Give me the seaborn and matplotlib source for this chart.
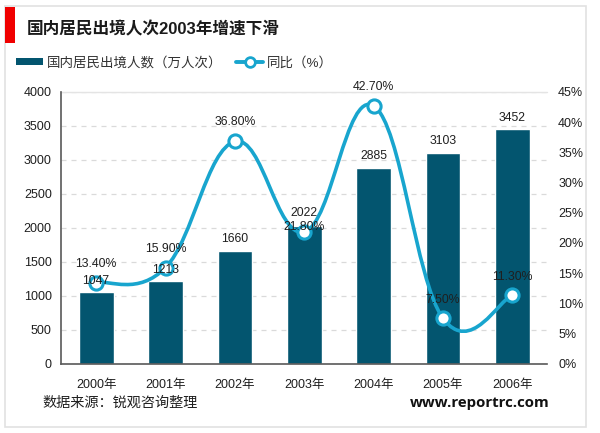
import numpy as np
import pandas as pd
import matplotlib
matplotlib.use("Agg")
import matplotlib.pyplot as plt
from matplotlib.path import Path
from matplotlib.patches import PathPatch, Rectangle, Patch
from matplotlib.lines import Line2D
import seaborn as sns

years = ['2000年', '2001年', '2002年', '2003年', '2004年', '2005年', '2006年']
travellers = [1047, 1213, 1660, 2022, 2885, 3103, 3452]
growth = [13.4, 15.9, 36.8, 21.8, 42.7, 7.5, 11.3]
growth_labels = ['13.40%', '15.90%', '36.80%', '21.80%', '42.70%', '7.50%', '11.30%']
left_ticks = [0, 500, 1000, 1500, 2000, 2500, 3000, 3500, 4000]
right_ticks = [0, 5, 10, 15, 20, 25, 30, 35, 40, 45]

BAR = '#03556F'
LINE = '#18A5CE'
TXT = '#1F1F1F'
FONT = ['Liberation Sans', 'Noto Sans CJK SC']

sns.set_theme(style='white')
plt.rcParams['font.family'] = FONT

W, H = 600, 433
fig = plt.figure(figsize=(W / 100, H / 100), dpi=100, facecolor='white')
fig.add_artist(Rectangle((5 / W, 1 - 427 / H), 581 / W, 421 / H, transform=fig.transFigure,
                         facecolor='white', edgecolor='#E2E2E2', lw=1.2, zorder=-2))
fig.add_artist(Rectangle((5 / W, 1 - 43 / H), 10 / W, 36 / H, transform=fig.transFigure,
                         facecolor='#F00000', edgecolor='none', zorder=-1))

ax = fig.add_axes([61.5 / W, 1 - 363.5 / H, 485.5 / W, 271.5 / H])
ax.patch.set_alpha(0)
df = pd.DataFrame({'year': years, 'n': travellers, 'g': growth})
sns.barplot(data=df, x='year', y='n', color=BAR, saturation=1, width=0.5, ax=ax, zorder=2)
ax.set_xlim(-0.5, 6.5)
ax.set_ylim(0, 4000)
ax.set_yticks(left_ticks)
ax.set_xlabel('')
ax.set_ylabel('')
ax.tick_params(axis='both', length=0, labelsize=9.0, labelcolor=TXT)
ax.tick_params(axis='x', pad=11)
ax.tick_params(axis='y', pad=7)
ax.yaxis.grid(True, color='#DADADA', ls=(0, (4, 4)), lw=0.9)
ax.set_axisbelow(True)
for s in ['top', 'right']:
    ax.spines[s].set_visible(False)
for s in ['left', 'bottom']:
    ax.spines[s].set_color('#595959')
    ax.spines[s].set_linewidth(1.2)
ax.plot([-0.5, 6.5], [4000, 4000], color='#E4E4E4', lw=1, clip_on=False, zorder=1)

ax2 = ax.twinx()
ax2.patch.set_alpha(0)
ax2.set_ylim(0, 45)
ax2.set_yticks(right_ticks)
ax2.set_yticklabels([f'{t}%' for t in right_ticks])
ax2.tick_params(axis='y', length=0, labelsize=9.0, labelcolor=TXT, pad=8)
ax2.grid(False)
for s in ax2.spines.values():
    s.set_visible(False)

# smoothed line through the data points (Catmull-Rom Bezier segments)
xs = np.arange(len(growth), dtype=float)
ys = np.array(growth, dtype=float)
verts = [(xs[0], ys[0])]
codes = [Path.MOVETO]
k = 0.2
for i in range(len(xs) - 1):
    p0 = i - 1 if i > 0 else i
    p3 = i + 2 if i + 2 < len(xs) else i + 1
    verts += [(xs[i] + k * (xs[i + 1] - xs[p0]), ys[i] + k * (ys[i + 1] - ys[p0])),
              (xs[i + 1] - k * (xs[p3] - xs[i]), ys[i + 1] - k * (ys[p3] - ys[i])),
              (xs[i + 1], ys[i + 1])]
    codes += [Path.CURVE4] * 3
ax2.add_patch(PathPatch(Path(verts, codes), facecolor='none', edgecolor=LINE, lw=2.6,
                        capstyle='round', zorder=3))
sns.lineplot(x=xs, y=ys, ax=ax2, linestyle='none', marker='o', markersize=9.5,
             markerfacecolor='white', markeredgecolor=LINE, markeredgewidth=2.2,
             zorder=4, legend=False)
ax2.set_ylabel('')
ax2.set_xlim(-0.5, 6.5)

bar_offs = [4, 4, 4, 5, 4, 4, 4]
for i, v in enumerate(travellers):
    ax2.annotate(str(v), (i, v / 4000 * 45), xytext=(0, bar_offs[i]), textcoords='offset points', ha='center',
                 va='bottom', fontsize=8.8, color=TXT, zorder=6)

offs = [9, 9, 10, -1, 9, 9, 9]
for i, (g, lab) in enumerate(zip(growth, growth_labels)):
    ax2.annotate(lab, (i, g), xytext=(0, offs[i]), textcoords='offset points', ha='center',
                 va='bottom', fontsize=8.8, color=TXT, zorder=6)

fig.text(27 / W, 1 - 29 / H, '国内居民出境人次2003年增速下滑', fontsize=12, fontweight='bold',
         color='#1A1A1A', va='center', ha='left', family=FONT)
fig.legend(handles=[Patch(facecolor=BAR, edgecolor='none'),
                    Line2D([], [], color=LINE, lw=2.8, marker='o', markersize=7,
                           markerfacecolor='white', markeredgecolor=LINE, markeredgewidth=2)],
           labels=['国内居民出境人数（万人次）', '同比（%）'], ncol=2, frameon=False,
           loc='center left', bbox_to_anchor=(11 / W, 1 - 63 / H), fontsize=9.7,
           labelcolor='#333333', handlelength=2.0, handleheight=0.45, handletextpad=0.3,
           columnspacing=1.0, borderaxespad=0)
fig.text(42 / W, 1 - 403 / H, '数据来源：锐观咨询整理', fontsize=10.2, color=TXT, va='center', ha='left')
fig.text(550 / W, 1 - 403 / H, 'www.reportrc.com', fontsize=10.8, fontweight='bold', color='#111111',
         va='center', ha='right', family='Open Sans')

fig.savefig('out.png', dpi=100)
